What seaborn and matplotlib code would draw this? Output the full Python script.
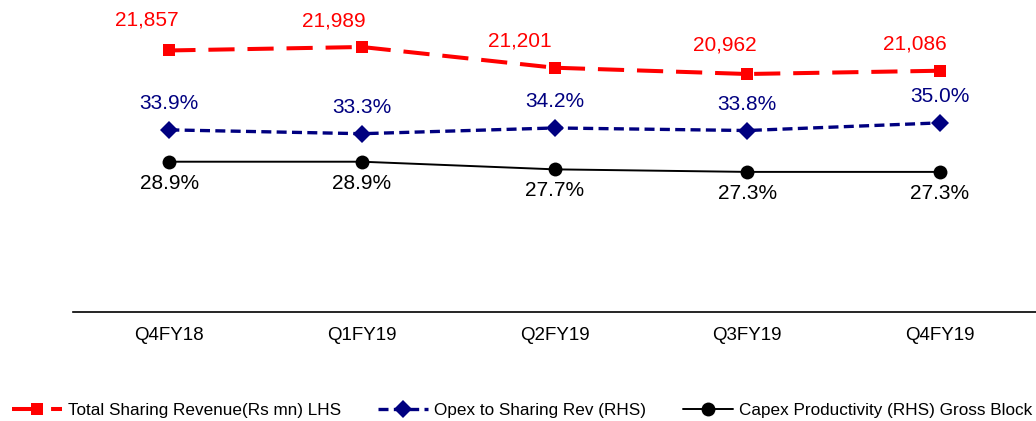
import numpy as np
import pandas as pd
import matplotlib
matplotlib.use("Agg")
import matplotlib.pyplot as plt
import seaborn as sns
from matplotlib.ticker import FixedLocator

quarters = ["Q4FY18", "Q1FY19", "Q2FY19", "Q3FY19", "Q4FY19"]
revenue = [21857, 21989, 21201, 20962, 21086]
opex_pct = [33.9, 33.3, 34.2, 33.8, 35.0]
capex_pct = [28.9, 28.9, 27.7, 27.3, 27.3]

sns.set_theme(style="white")
plt.rcParams['font.family'] = ['Liberation Sans', 'DejaVu Sans']
plt.rcParams['text.color'] = 'black'

df = pd.DataFrame({"pos": np.arange(len(quarters)), "revenue": revenue,
                   "opex": opex_pct, "capex": capex_pct})

fig = plt.figure(figsize=(10.36, 4.21), dpi=100)
ax = fig.add_axes([0.0705, 0.259, 0.9295, 0.741])
ax2 = ax.twinx()

red = "#FF0000"
navy = "#000080"

sns.lineplot(data=df, x="pos", y="revenue", ax=ax, color=red, linewidth=2.9,
             linestyle=(0, (6.5, 3.2)), marker="s", markersize=8.5, markeredgewidth=0,
             label="Total Sharing Revenue(Rs mn) LHS", legend=False)
sns.lineplot(data=df, x="pos", y="opex", ax=ax2, color=navy, linewidth=2.4,
             linestyle=(0, (3, 1.6)), marker="D", markersize=9, markeredgewidth=0,
             label="Opex to Sharing Rev (RHS)", legend=False)
sns.lineplot(data=df, x="pos", y="capex", ax=ax2, color="black", linewidth=1.4,
             marker="o", markersize=10, markeredgewidth=0,
             label="Capex Productivity (RHS) Gross Block", legend=False)

ax.set_ylim(11913, 23776)
ax2.set_ylim(5.3, 54.3)
ax.set_xlim(-0.5, len(quarters) - 0.5)

# revenue labels sit a little left of their markers, as in the source slide
red_dx = [-16, -20.5, -25, -16, -18]
red_dy = [21.6, 18.5, 19.4, 20.9, 19.4]
for i, v in enumerate(revenue):
    ax.annotate(f"{v:,}", (i, v), xytext=(red_dx[i], red_dy[i]), textcoords="offset points",
                ha="center", va="center", color=red, fontsize=15)
for i, v in enumerate(opex_pct):
    ax2.annotate(f"{v:.1f}%", (i, v), xytext=(0, 19), textcoords="offset points",
                 ha="center", va="center", color=navy, fontsize=15)
for i, v in enumerate(capex_pct):
    ax2.annotate(f"{v:.1f}%", (i, v), xytext=(0, -15.5), textcoords="offset points",
                 ha="center", va="center", color="black", fontsize=15)

for a in (ax, ax2):
    for s in ("top", "right", "left"):
        a.spines[s].set_visible(False)
    a.set_yticks([])
    a.set_ylabel("")
ax2.spines["bottom"].set_visible(False)
ax.spines["bottom"].set_color("black")
ax.spines["bottom"].set_linewidth(1.2)

ax.set_xticks(np.arange(len(quarters)))
ax.set_xticklabels(quarters, fontsize=13.5, color="black")
ax.xaxis.set_minor_locator(FixedLocator(np.arange(len(quarters) + 1) - 0.5))
ax.tick_params(axis="x", which="major", length=0, pad=11)
ax.tick_params(axis="x", which="minor", length=5, width=1, color="#BBBBBB", direction="out")
ax.set_xlabel("")

handles = ax.get_lines()[:1] + ax2.get_lines()[:2]
labels = [h.get_label() for h in handles]
fig.legend(handles, labels, loc="lower center", bbox_to_anchor=(0.504, -0.03), ncol=3,
           frameon=False, fontsize=12.3, handlelength=2.9, handletextpad=0.35,
           columnspacing=2.2)

fig.savefig("out.png", dpi=100)
